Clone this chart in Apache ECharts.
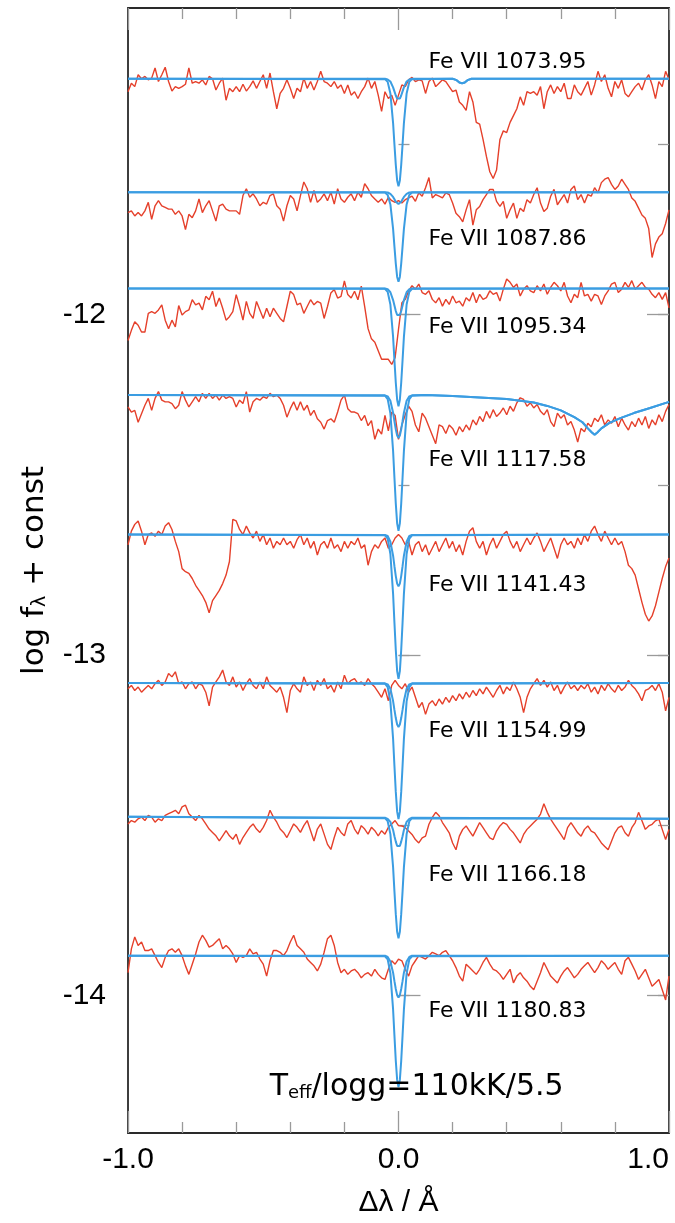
<!DOCTYPE html>
<html><head><meta charset="utf-8">
<script src="https://cdn.jsdelivr.net/npm/echarts@6/dist/echarts.min.js"></script>
<style>html,body{margin:0;padding:0;background:#fff}#c{width:675px;height:1223px}</style>
</head><body><div id="c"></div>
<script>
// ---------------- DATA ----------------
const lineNames = ['Fe VII 1073.95','Fe VII 1087.86','Fe VII 1095.34','Fe VII 1117.58','Fe VII 1141.43','Fe VII 1154.99','Fe VII 1166.18','Fe VII 1180.83'];
// continuum level (log f + const) of each spectrum
const cont = [-11.307, -11.640, -11.923, -12.236, -12.646, -13.082, -13.478, -13.883];
// observed spectra: offsets from continuum in millidex; L = -1..0 A, R = 0..1 A (step 0.0125 A)
const obs1L = [-38,-13,-23,12,0,7,-3,2,32,-8,12,34,-8,-36,-23,-28,-23,-16,32,-13,-8,-13,-3,-18,7,0,-33,-13,2,-63,-28,-38,-23,-38,-16,-36,-23,-6,-28,-8,12,-28,17,-38,-88,-43,-28,-3,-28,-58,-28,-38,2,-28,-8,-33,-8,22,-8,-13,-23,-8,-28,-18,-43,-18,-48,-38,-58,-38,-23,2,-28,-8,-48,-96,-38,-58,-48,-78,-48];
const obs1R = [-18,-23,-3,4,-8,-3,-6,-43,-8,2,-23,-13,-3,-8,-23,-38,-33,-68,-78,-93,-38,-68,-128,-133,-178,-228,-273,-293,-268,-178,-153,-158,-128,-108,-88,-53,-78,-38,-43,-38,-48,-23,-88,-38,-18,-43,-23,-38,-13,-58,-58,-18,-38,-48,-28,-8,-48,-18,22,-8,12,-28,-53,-8,-28,-3,-43,-53,-38,-23,-13,-33,-3,12,-18,-58,-8,-23,22,-2];
const obs2L = [-60,-55,-70,-60,-70,-55,-30,-80,-40,-25,-40,-45,-50,-50,-65,-55,-70,-110,-65,-75,-55,-20,-60,-40,-25,-55,-85,-40,-35,-50,-55,-55,-55,-65,-10,10,-15,-5,-20,-40,-30,-35,-10,-5,-40,-50,-85,-40,-10,-20,-55,-10,30,10,-30,5,-30,-20,-5,-25,0,-35,10,-20,-30,-15,-5,-25,0,-15,25,10,-10,-20,-30,-20,-35,-15,-25,-30,-25];
const obs2R = [-32,-22,-17,-12,-27,-2,-12,13,43,-17,-7,-12,-17,-2,-7,-32,-62,-72,-87,-52,-22,-97,-52,-42,-22,-7,8,8,-27,-42,-27,-77,-52,-32,-77,-47,-57,-22,-32,-7,13,-32,-57,-47,-12,8,-37,-22,-7,-32,8,18,-22,-7,-32,-7,-12,13,-2,28,38,43,23,8,18,38,23,8,-17,-27,-47,-67,-77,-107,-192,-152,-132,-122,-92,-52];
const obs3L = [-153,-123,-98,-108,-128,-128,-73,-68,-73,-63,-48,-93,-118,-93,-113,-50,-78,-68,-63,-33,-48,-43,-63,-23,-33,-8,-53,-28,-58,-93,-83,-68,-18,-53,-93,-38,-73,-88,-38,-63,-88,-58,-83,-58,-73,-88,-98,-53,-8,-18,-48,-43,-73,-53,-33,-48,-38,-43,-88,-53,-13,-3,-28,-23,22,-18,-28,-8,-33,7,-53,-118,-148,-158,-183,-208,-208,-208,-223,-203,-120];
const obs3R = [-42,-32,-7,8,-2,13,-12,-17,-7,-32,-42,-27,-52,-32,-47,-22,-42,-37,-52,-27,-37,-12,-42,-17,-32,-27,-7,-17,-12,-37,-2,28,18,3,13,-22,-2,8,-7,-12,8,-7,13,-17,3,18,8,-7,18,-22,-42,-17,-27,18,-22,-17,-37,-17,-22,-47,-22,-7,13,18,-12,-2,18,3,23,-2,8,18,3,-2,-17,-27,-12,-32,-12,-57];
const obs4L = [-35,-50,-45,-80,-55,-30,-10,-45,-10,10,-15,-20,-20,-25,-40,-30,10,-15,-35,-20,-5,-20,5,-10,5,-10,0,-15,0,-10,-5,-10,-35,-15,-25,10,-50,-20,-10,-15,-5,-10,5,-5,0,-10,-30,-65,-40,-20,-45,-20,-45,-30,-60,-45,-70,-80,-100,-75,-70,-80,-50,-15,0,-40,-50,-50,-55,-75,-60,-90,-75,-130,-100,-115,-60,-105,-50,-60,-130];
const obs4R = [-88,-58,-33,-48,-88,-108,-53,-68,-93,-118,-143,-88,-93,-113,-88,-98,-118,-93,-108,-88,-103,-73,-88,-63,-78,-48,-68,-43,-63,-53,-38,-58,-33,-48,-23,-8,-13,-33,-23,-38,-28,-48,-58,-43,-78,-93,-53,-68,-58,-88,-78,-103,-138,-98,-108,-83,-93,-68,-78,-58,-88,-73,-83,-63,-93,-68,-88,-103,-78,-93,-68,-88,-63,-98,-73,-88,-58,-78,-48,-28];
const obs5L = [-30,10,30,40,10,-30,0,5,-5,10,0,25,35,15,-20,-50,-100,-109,-114,-129,-149,-164,-179,-199,-230,-194,-179,-164,-144,-119,-79,45,40,15,0,25,5,-10,10,-20,0,-30,-10,-40,-20,-30,-10,-30,-20,-40,-15,0,-30,-10,-40,-20,-60,-30,-20,-40,-10,-40,-30,-50,-20,-40,-20,-30,-10,-40,-30,-90,-50,-30,-40,-20,-10,-40,-30,-10,0];
const obs5R = [-10,-30,-20,-60,-30,-20,-50,-30,-60,-40,-20,-50,-30,-10,-40,-20,-50,-30,-60,-20,10,20,-20,-40,-20,-60,-30,-10,-40,-20,0,10,-20,-40,-20,-50,-30,-10,-30,-10,5,-20,-50,-30,-10,-40,-70,-30,-10,-30,-20,-40,-10,-30,0,-20,10,25,0,-20,10,-10,-30,-10,-30,-20,-50,-90,-100,-119,-159,-199,-234,-254,-239,-209,-169,-129,-94,-69];
const obs6L = [-17,-7,-22,-12,-27,-17,-7,-17,-2,8,-7,3,28,18,33,-2,3,-17,-2,3,-17,-2,-7,-27,-67,-12,3,18,38,3,-7,18,-12,3,-22,-2,13,-7,-17,3,-17,18,-7,-17,-27,-12,-42,-87,-22,-2,-17,-27,18,-7,3,-22,8,-7,13,-17,-7,-27,3,-17,23,-2,8,13,-2,3,-7,13,-2,-12,-27,-42,-17,-52,-7,8,-7];
const obs6R = [-17,-2,-27,-12,-42,-72,-57,-92,-62,-52,-67,-47,-62,-42,-57,-37,-52,-32,-47,-27,-42,-22,-37,-17,-32,-12,-27,-42,-22,-7,-32,-12,-22,3,-17,-42,-87,-42,-17,-2,13,-7,8,-12,3,-22,-7,-32,-12,3,-17,-7,-22,-7,-17,-2,-27,-12,-32,-7,-22,-2,-17,-27,-7,-22,-12,8,-7,-17,-32,-52,-22,-17,-7,-22,-2,-27,-82,-42];
const obs7L = [-18,-8,-13,-3,2,-8,7,2,-13,-3,-8,7,12,17,22,12,32,37,12,2,-8,7,-3,-18,-33,-43,-53,-68,-53,-38,-53,-63,-48,-78,-58,-43,-28,-18,-33,-43,-28,-8,22,2,-13,-33,-43,-58,-38,-18,-28,-43,-23,-8,-38,-68,-33,-18,-48,-78,-93,-58,-28,-43,-53,-18,-8,-33,-48,-23,-33,-48,-28,-38,-53,-38,-48,-28,-18,-8,-23];
const obs7R = [-24,-29,-39,-49,-64,-74,-59,-54,-19,1,16,6,-14,-29,-44,-74,-94,-54,-34,-24,-39,-54,-34,-14,-29,-44,-59,-64,-39,-24,-14,-19,-34,-44,-59,-74,-49,-34,-24,-14,-4,11,41,16,-4,-19,-34,-49,-64,-29,-14,-29,-44,-54,-34,-24,-39,-44,-59,-74,-84,-94,-69,-44,-29,-24,-44,-54,-29,-14,16,-9,-34,-24,-19,-9,-4,-34,-64,-34];
const obs8L = [-50,20,55,30,40,15,15,20,0,-20,-35,-5,15,20,10,20,0,-30,-55,-25,5,40,60,45,25,30,40,50,20,30,20,5,-20,0,-5,0,20,5,10,-10,-25,-60,-15,15,15,10,0,15,40,60,30,20,10,-10,-20,-30,-45,-25,10,50,60,30,-20,-50,-40,-55,-45,-40,-50,-65,-55,-50,-60,-40,-55,-65,-70,-40,-15,-25,-10];
const obs8R = [-15,-40,-60,-30,-15,0,-5,-10,0,10,5,0,10,15,0,-15,-35,-60,-75,-25,-35,-45,-55,-40,-20,-5,-25,-40,-45,-55,-70,-55,-40,-80,-60,-50,-65,-75,-90,-100,-75,-50,-20,-40,-60,-70,-80,-60,-45,-35,-50,-65,-55,-40,-30,-20,-35,-50,-35,-15,-25,-40,-30,-20,-40,-55,-15,-5,-25,-45,-70,-55,-40,-65,-90,-80,-70,-100,-130,-60];
const obsL = [obs1L,obs2L,obs3L,obs4L,obs5L,obs6L,obs7L,obs8L];
const obsR = [obs1R,obs2R,obs3R,obs4R,obs5R,obs6R,obs7R,obs8R];

// model spectra (two models per line), millidex from continuum at modelX
const modelX = [-1,-0.05,-0.04,-0.03,-0.02,-0.015,-0.01,-0.005,0,0.005,0.01,0.015,0.02,0.03,0.04,0.05,1];
const deep1 = [0,-1,-9,-43,-130,-193,-253,-299,-316,-299,-253,-193,-130,-43,-9,-1,0];
const deep2 = [0,-1,-8,-36,-108,-160,-210,-249,-263,-249,-210,-160,-108,-36,-8,-1,0];
const deep3 = [0,-1,-10,-47,-142,-211,-277,-327,-346,-327,-277,-211,-142,-47,-10,-1,0];
const deep4 = [0,-2,-12,-54,-164,-243,-319,-377,-399,-377,-319,-243,-164,-54,-12,-2,0];
const deep5 = [0,-2,-12,-57,-174,-259,-339,-401,-424,-401,-339,-259,-174,-57,-12,-2,0];
const deep6 = [0,-2,-12,-54,-164,-244,-320,-378,-400,-378,-320,-244,-164,-54,-12,-2,0];
const deep7 = [3,-1,-10,-48,-145,-216,-283,-335,-354,-335,-283,-216,-145,-48,-10,-1,-3];
const deep8 = [0,-2,-11,-52,-158,-235,-309,-365,-386,-365,-309,-235,-158,-52,-11,-2,0];
const shallow1 = [0,0,-2,-8,-25,-37,-49,-58,-61,-58,-49,-37,-25,-8,-2,0,0];
const shallow2 = [0,0,-1,-5,-14,-21,-28,-33,-35,-33,-28,-21,-14,-5,-1,0,0];
const shallow3 = [0,0,-2,-11,-34,-50,-66,-78,-82,-78,-66,-50,-34,-11,-2,0,0];
const shallow4 = [0,-1,-4,-17,-52,-77,-101,-119,-126,-119,-101,-77,-52,-17,-4,-1,0];
const shallow5 = [0,-1,-4,-21,-62,-93,-122,-144,-152,-144,-122,-93,-62,-21,-4,-1,0];
const shallow6 = [0,-1,-4,-17,-53,-79,-103,-122,-129,-122,-103,-79,-53,-17,-4,-1,0];
const shallow7 = [3,0,-3,-12,-36,-54,-70,-83,-88,-83,-70,-54,-36,-12,-3,0,-3];
const shallow8 = [0,0,-4,-17,-50,-75,-98,-116,-123,-116,-98,-75,-50,-17,-4,0,0];
const deep = [deep1,deep2,deep3,deep4,deep5,deep6,deep7,deep8];
const shallow = [shallow1,shallow2,shallow3,shallow4,shallow5,shallow6,shallow7,shallow8];
// extra model features red-ward of the line (replace the model beyond 0.05 A)
const tail1X = [0.2,0.215,0.225,0.235,0.245,0.255,0.27,1];
const tail1 = [0,-4,-11,-13,-11,-4,0,0];
const tail4X = [0.1,0.2,0.3,0.4,0.5,0.55,0.6,0.65,0.68,0.7,0.715,0.725,0.735,0.75,0.78,0.82,0.87,0.93,1.0];
const tail4 = [0,-3,-7,-12,-22,-32,-45,-65,-80,-98,-110,-117,-110,-98,-82,-68,-53,-38,-20];
const tails = {0:[tail1X,tail1], 3:[tail4X,tail4]};

// ticks and annotations
const yMajor = [-14,-13,-12];
const yMinor = [-14,-13.5,-13,-12.5,-12,-11.5];
const labelX = 0.111;
const labelY = [-11.257,-11.778,-12.038,-12.427,-12.795,-13.225,-13.646,-14.047];

// ---------------- CHART ----------------
const FONT = 'Liberation Sans, Arial, Helvetica, sans-serif';
const WIDE = 'DejaVu Sans, Liberation Sans, sans-serif';
const INK = '#000';
const RED = '#e5402b', BLUE = '#3b9de2';
const series = [];
for (let k = 0; k < 8; k++) {
  const L = obsL[k], R = obsR[k];
  const pts = L.map((v,i)=>[-1 + i/(L.length-1), cont[k] + v/1000])
    .concat(R.map((v,j)=>[(j+1)/R.length, cont[k] + v/1000]));
  series.push({type:'line', data:pts, showSymbol:false, silent:true, z:2,
    lineStyle:{color:RED, width:1.4}});
  [deep[k], shallow[k]].forEach(m => {
    let mp = modelX.map((x,i)=>[x, cont[k] + m[i]/1000]);
    if (tails[k]) {
      mp.pop();
      mp = mp.concat(tails[k][0].map((x,i)=>[x, cont[k] + tails[k][1][i]/1000]));
    }
    series.push({type:'line', data:mp, showSymbol:false, silent:true, z:3,
      lineStyle:{color:BLUE, width:2}});
  });
}
series.push({type:'scatter', symbolSize:0, itemStyle:{color:INK, opacity:1}, silent:true, z:5,
  data: labelY.map((y,k)=>({value:[labelX,y], name:lineNames[k]})),
  label:{show:true, position:'right', distance:0, formatter:p=>p.name, fontSize:22, color:INK, opacity:1, fontFamily:WIDE}});
series.push({type:'scatter', symbolSize:0, itemStyle:{color:INK, opacity:1}, silent:true, z:5,
  data:[{value:[0.067,-14.263]}],
  label:{show:true, position:'inside', color:INK, formatter:'{t|T}{s|eff}{t|/logg=110kK/5.5}',
    rich:{t:{fontSize:30, fontFamily:WIDE, color:INK, verticalAlign:'bottom', lineHeight:34},
          s:{fontSize:18, fontFamily:WIDE, color:INK, verticalAlign:'bottom', lineHeight:27}}}});

const tickCol = '#9a9a9a';
const xBase = {type:'value', min:-1, max:1, interval:1, splitLine:{show:false}, axisLine:{show:false},
  axisTick:{show:true, inside:true, length:22, lineStyle:{color:tickCol, width:1.3}},
  minorTick:{show:true, splitNumber:5, length:11, lineStyle:{color:tickCol, width:1.3}},
  minorSplitLine:{show:false}};
const yRange = {type:'value', min:-14.404, max:-11.099, splitLine:{show:false}, axisLine:{show:false}};
const chart = echarts.init(document.getElementById('c'), null, {renderer:'canvas'});
chart.setOption({
  animation:false,
  backgroundColor:'#fff',
  grid:{left:128, right:6, top:8, bottom:85, show:true, borderColor:'#2a2a2a', borderWidth:1.8, backgroundColor:'transparent'},
  xAxis:[
    Object.assign({}, xBase, {position:'bottom',
      axisLabel:{show:true, formatter:v=>v.toFixed(1), fontSize:30, color:INK, fontFamily:FONT, margin:12, alignMaxLabel:'right'},
      name:'Δλ / Å', nameLocation:'middle', nameGap:55, nameTextStyle:{fontSize:30, color:INK, fontFamily:FONT}}),
    Object.assign({}, xBase, {position:'top', axisLabel:{show:false}})
  ],
  yAxis:[
    Object.assign({}, yRange, {position:'left',
      axisTick:{show:true, inside:true, length:22, customValues:yMajor, lineStyle:{color:tickCol, width:1.3}},
      axisLabel:{show:true, customValues:yMajor, formatter:v=>String(Math.round(v)), fontSize:30, color:INK, fontFamily:FONT, margin:22},
      name:'log f{s|λ} + const', nameLocation:'middle', nameRotate:90, nameGap:78,
      nameTextStyle:{fontSize:31, color:INK, fontFamily:WIDE,
        rich:{s:{fontSize:19, fontFamily:WIDE, color:INK, verticalAlign:'bottom', lineHeight:22}}}}),
    Object.assign({}, yRange, {position:'left', axisLabel:{show:false},
      axisTick:{show:true, inside:true, length:11, customValues:yMinor, lineStyle:{color:tickCol, width:1.3}}}),
    Object.assign({}, yRange, {position:'right', axisLabel:{show:false},
      axisTick:{show:true, inside:true, length:22, customValues:yMajor, lineStyle:{color:tickCol, width:1.3}}}),
    Object.assign({}, yRange, {position:'right', axisLabel:{show:false},
      axisTick:{show:true, inside:true, length:11, customValues:yMinor, lineStyle:{color:tickCol, width:1.3}}})
  ],
  series: series
});
</script></body></html>
